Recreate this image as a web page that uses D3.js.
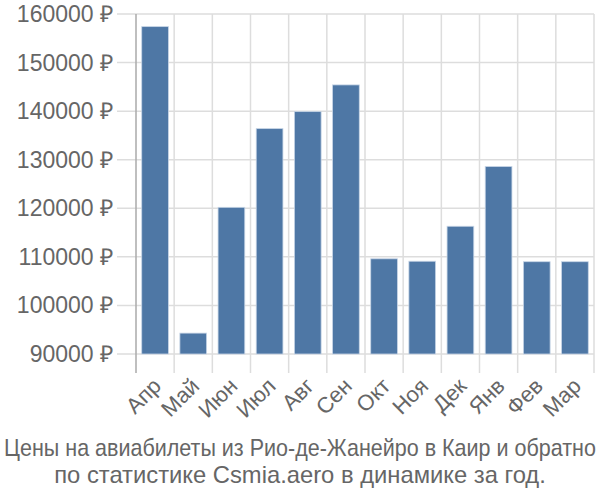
<!DOCTYPE html>
<html><head><meta charset="utf-8">
<script src="https://cdn.jsdelivr.net/npm/d3@7"></script>
<style>body{margin:0;background:#fff}svg{display:block}</style>
</head><body>
<script>
const months = ["Апр","Май","Июн","Июл","Авг","Сен","Окт","Ноя","Дек","Янв","Фев","Мар"];
const prices = [157400,94300,120200,136400,139900,145400,109600,109100,116300,128600,109000,109000];
const yTicks = [90000,100000,110000,120000,130000,140000,150000,160000];
const titleLines = ["Цены на авиабилеты из Рио-де-Жанейро в Каир и обратно","по статистике Csmia.aero в динамике за год."];
const titleWidths = [592, 492];

const W=600,H=500, L=136, R=594, T=14, B=354;
const svg=d3.select("body").append("svg").attr("width",W).attr("height",H);
const x=d3.scaleBand().domain(months).range([L,R]).paddingInner(0.3).paddingOuter(0.15);
const y=d3.scaleLinear().domain([90000,160000]).range([B,T]);
const font="'Liberation Sans', Arial, sans-serif";
const bounds=d3.range(months.length+1).map(i=>L+i*(R-L)/months.length);

// horizontal grid
svg.append("g").selectAll("line").data(yTicks).join("line")
 .attr("x1",L-19).attr("x2",R).attr("y1",d=>y(d)).attr("y2",d=>y(d))
 .attr("stroke","#dddddd").attr("stroke-width",1.5);
// vertical grid
svg.append("g").selectAll("line").data(bounds.slice(1)).join("line")
 .attr("x1",d=>d).attr("x2",d=>d).attr("y1",T).attr("y2",B+19)
 .attr("stroke","#dddddd").attr("stroke-width",1.5);
// left axis line
svg.append("line").attr("x1",L).attr("x2",L).attr("y1",T).attr("y2",B+19)
 .attr("stroke","#aaaaaa").attr("stroke-width",1.5);

// bars
svg.append("g").selectAll("rect").data(months).join("rect")
 .attr("x",(d)=>x(d)).attr("width",x.bandwidth())
 .attr("y",(d,i)=>y(prices[i])).attr("height",(d,i)=>B-y(prices[i]))
 .attr("fill","#4e77a5").attr("stroke","#c7d5e6").attr("stroke-width",0.8);

// y labels
svg.append("g").selectAll("text").data(yTicks).join("text")
 .attr("x",L-23).attr("y",d=>y(d)).attr("dy","0.35em").attr("text-anchor","end")
 .attr("font-family",font).attr("font-size",23).attr("fill","#666")
 .text(d=>d+" ₽");

// x labels
svg.append("g").selectAll("text").data(months).join("text")
 .attr("transform",d=>`translate(${x(d)+x.bandwidth()/2+2},${B+28}) rotate(-45)`)
 .attr("text-anchor","end").attr("dy","0.35em")
 .attr("font-family",font).attr("font-size",22).attr("fill","#666")
 .text(d=>d);

// title (horizontally condensed via transform)
svg.append("g").selectAll("text").data(titleLines).join("text")
 .attr("x",0).attr("y",0).attr("text-anchor","middle")
 .attr("font-family",font).attr("font-size",24).attr("fill","#666")
 .text(d=>d)
 .attr("transform",function(d,i){
   const w=this.getComputedTextLength();
   return `translate(${W/2},${456+i*27}) scale(${titleWidths[i]/w},1)`;
 });
</script>
</body></html>
